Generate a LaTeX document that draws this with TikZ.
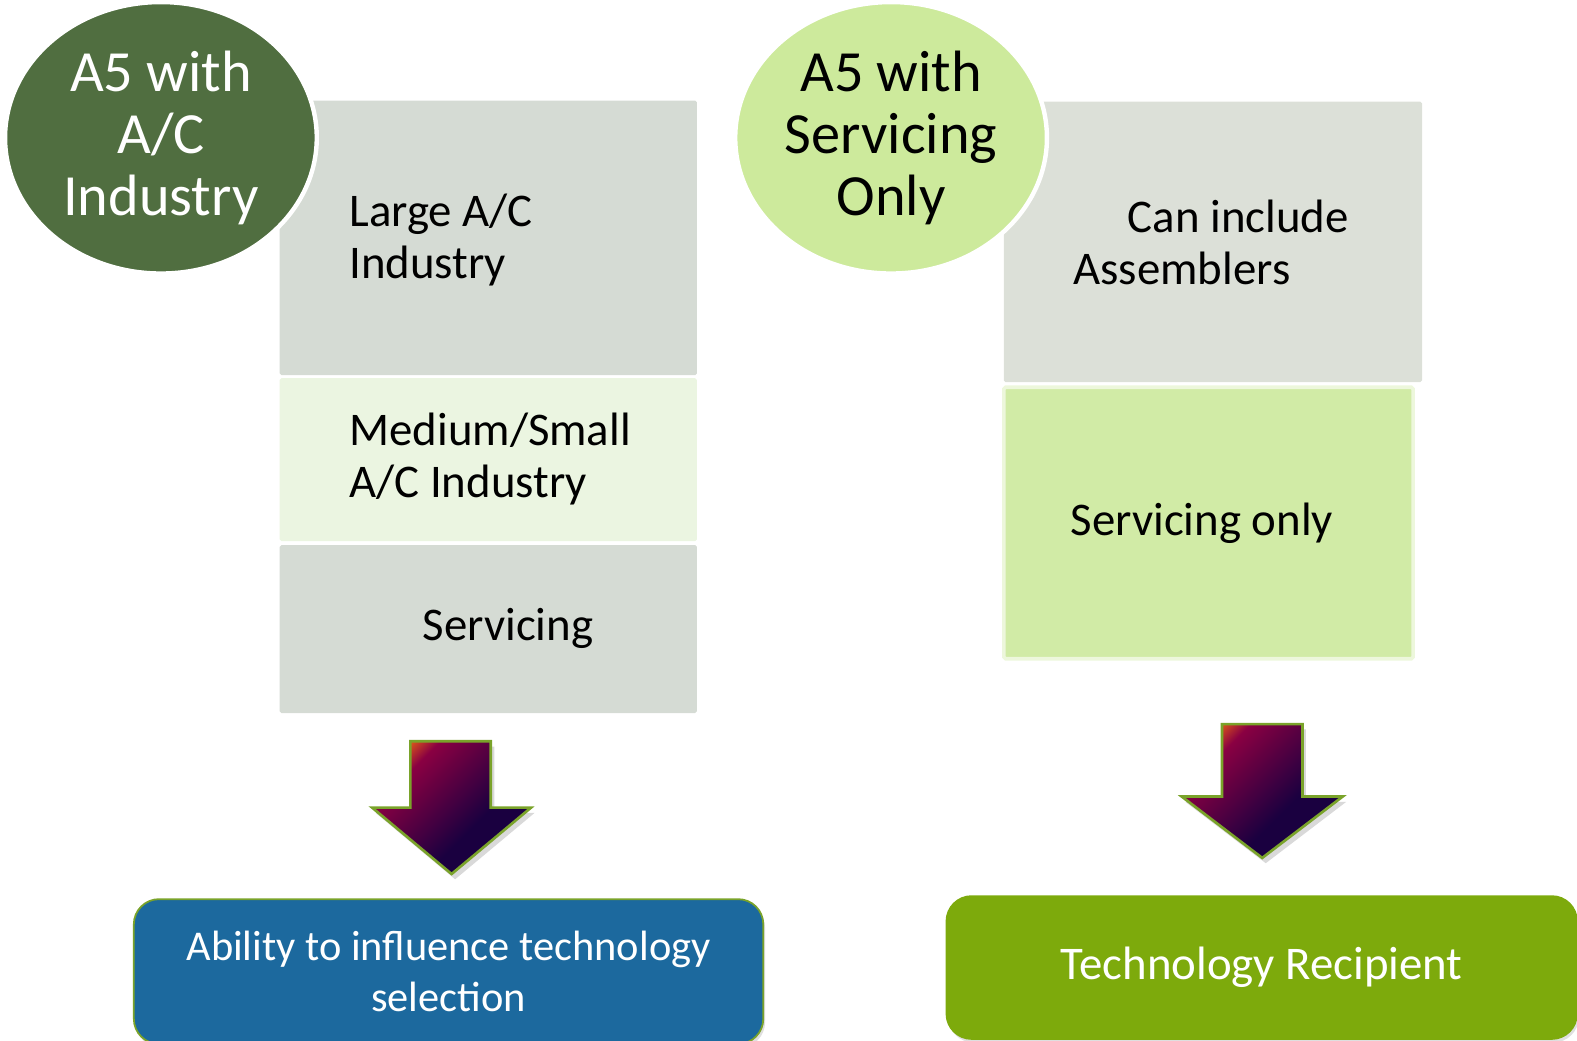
\documentclass[tikz,border=0pt]{standalone}
\usepackage{fontspec}
\setmainfont{Carlito}
\usepackage{tikz}
\usetikzlibrary{shapes.geometric}
\usetikzlibrary{shadows}
\definecolor{ovaldark}{HTML}{506E40}
\definecolor{ovallight}{HTML}{CDEA9C}
\definecolor{boxgray}{HTML}{D5DBD4}
\definecolor{boxgraylt}{HTML}{DCE0D8}
\definecolor{boxmint}{HTML}{EBF5E1}
\definecolor{boxlime}{HTML}{D1EBA6}
\definecolor{limerim}{HTML}{EDF7DC}
\definecolor{ablue}{HTML}{1C699E}
\definecolor{aolive}{HTML}{7DAA0C}
\definecolor{arrowrim}{HTML}{7AA32A}
\definecolor{shOrange}{HTML}{D9561A}
\definecolor{shCrimson}{HTML}{8A0042}
\definecolor{shNavy}{HTML}{1A0040}
\pgfdeclarehorizontalshading{arrowshade}{100bp}{color(0bp)=(shOrange); color(24bp)=(shOrange); color(31bp)=(shCrimson); color(60bp)=(shNavy); color(100bp)=(shNavy)}

\begin{document}
\begin{tikzpicture}[x=0.02cm,y=-0.02cm,
	oval/.style={ellipse, minimum width=6.2cm, minimum height=5.4cm, inner sep=0pt,
		draw=white, line width=2.5pt, align=center, font=\fontsize{33}{35}\selectfont},
	tile/.style={rectangle, inner sep=0pt, rounded corners=1pt},
	tiletext/.style={align=left, inner sep=0pt, font=\fontsize{26.5}{29.5}\selectfont},
	outcome/.style={rectangle, rounded corners=0.5cm, draw=arrowrim, line width=1pt,
		text=white, align=center, inner sep=0pt,
		drop shadow={opacity=0.25, shadow xshift=1pt, shadow yshift=-2pt}},
	downarrow/.style={draw=arrowrim, line width=1.5pt, line join=miter,
		shading=arrowshade, shading angle=-45,
		drop shadow={opacity=0.3, shadow xshift=2pt, shadow yshift=-3pt}}]
	\useasboundingbox (0,0) rectangle (1568,1035);
	\pgfmathsetmacro{\shaftw}{80}
	\pgfmathsetmacro{\headw}{158}

	% left column
	\node[tile, fill=boxgray, minimum width=8.3cm, minimum height=5.46cm] (largebox) at (485.5,236.5) {};
	\node[tile, fill=boxmint, minimum width=8.3cm, minimum height=3.24cm] (mediumbox) at (485.5,457) {};
	\node[tile, fill=boxgray, minimum width=8.3cm, minimum height=3.34cm] (servbox) at (485.5,625.5) {};
	\node[tiletext, anchor=west] (largetxt) at (347,239) {Large A/C\\Industry};
	\node[tiletext, anchor=west] (mediumtxt) at (347,456) {Medium/Small\\A/C Industry};
	\node[tiletext] (servtxt) at (505,625) {Servicing};
	\node[oval, fill=ovaldark, text=white] (acoval) at (160,137) {A5 with\\A/C\\Industry};

	% right column
	\node[tile, fill=boxgraylt, minimum width=8.32cm, minimum height=5.58cm] (asmbox) at (1206,240.5) {};
	\node[tile, fill=boxlime, draw=limerim, line width=2pt, minimum width=8.14cm, minimum height=5.4cm] (onlybox) at (1201.5,520) {};
	\node[tiletext, anchor=west] (asmtxt) at (1067,241) {\hspace*{1.08cm}Can include\\Assemblers};
	\node[tiletext] (onlytxt) at (1195,520) {Servicing only};
	\node[oval, fill=ovallight, text=black] (servoval) at (886,137) {A5 with\\Servicing\\Only};

	% arrows
	\shade[downarrow] (408,737) -- ++(\shaftw,0) -- ++(0,66) -- ++(40,0) -- (449,869)
		-- (370,803) -- ++(38,0) -- cycle;
	\shade[downarrow] (1215,720) -- ++(\shaftw,0) -- ++(0,72) -- ++(40,0) -- (1255,853)
		-- (1175,792) -- ++(40,0) -- cycle;

	% outcomes
	\node[outcome, fill=ablue, minimum width=12.52cm, minimum height=2.88cm,
		font=\fontsize{24}{28.5}\selectfont] (influence) at (446,966) {Ability to influence technology\\selection};
	\node[outcome, fill=aolive, draw=aolive, minimum width=12.54cm, minimum height=2.84cm,
		font=\fontsize{26.5}{30}\selectfont] (recipient) at (1254.5,962) {Technology Recipient};
\end{tikzpicture}
\end{document}
